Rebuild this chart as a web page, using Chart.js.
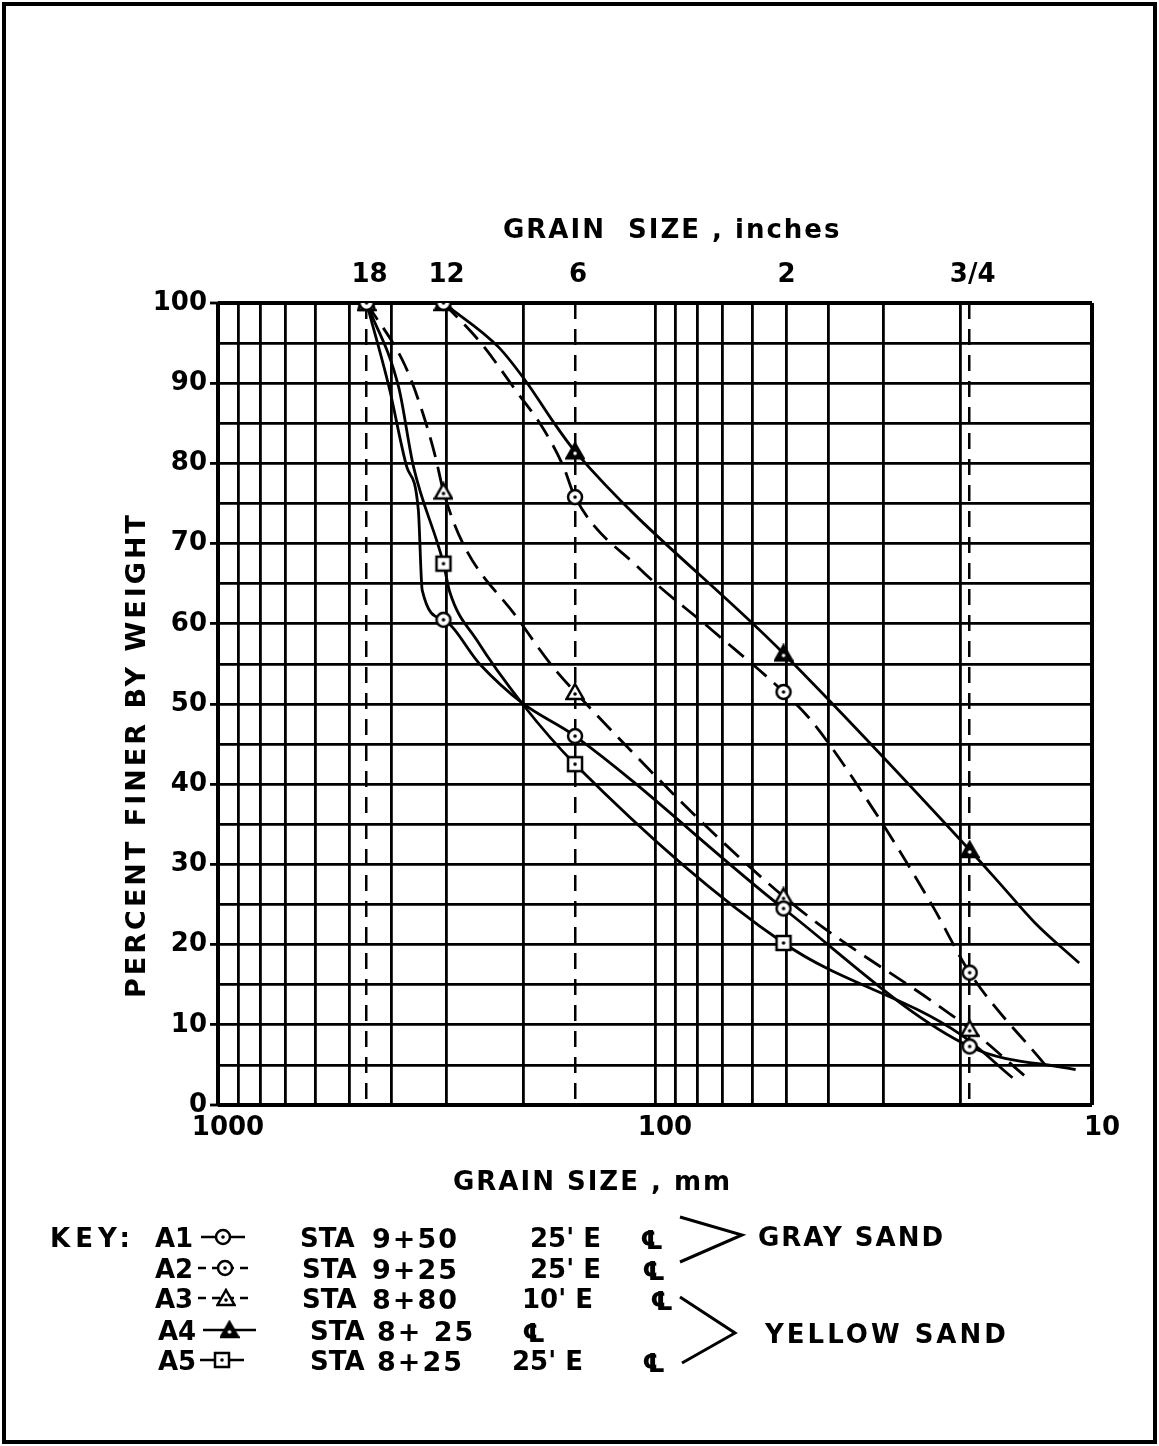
<!DOCTYPE html>
<html><head><meta charset="utf-8">
<script src="https://cdn.jsdelivr.net/npm/chart.js@4/dist/chart.umd.min.js"></script>
<style>
html,body{margin:0;padding:0;background:#fff;}
#wrap{position:relative;width:1159px;height:1446px;overflow:hidden;background:#fff;}
#c{position:absolute;left:0;top:0;}
.t{position:absolute;font-family:"DejaVu Sans",sans-serif;font-weight:bold;color:#000;white-space:pre;line-height:1;font-size:26px;}
#frame{position:absolute;left:2px;top:2px;width:1155px;height:1442px;box-sizing:border-box;border:4px solid #000;}
</style></head><body>
<div id="wrap">
<canvas id="c" width="1159" height="1446"></canvas>
<div id="frame"></div>
<div class="t" style="left:503px;top:216px;letter-spacing:2px">GRAIN  SIZE , inches</div>
<div class="t" style="left:453px;top:1168px;letter-spacing:2px">GRAIN SIZE , mm</div>
<div class="t" style="left:135px;top:755px;letter-spacing:3px;font-size:27px;transform:translate(-50%,-50%) rotate(-90deg)">PERCENT FINER BY WEIGHT</div>
<div class="t" style="left:50px;top:1225px;letter-spacing:5px">KEY:</div>
<div class="t" style="left:758px;top:1224px;letter-spacing:2px">GRAY SAND</div>
<div class="t" style="left:765px;top:1321px;letter-spacing:3px">YELLOW SAND</div>
<div id="keytext"></div>
</div>
<script>
// ---- data ----
const sieveInches = ['18', '12', '6', '2', '3/4'];
const sieveMM = [457.2, 304.8, 152.4, 50.8, 19.05];
const xGridMM = [10,20,30,40,50,60,70,80,90,100,200,300,400,500,600,700,800,900,1000];
const xLabelMM = [10, 100, 1000];
const yLabelPct = [0,10,20,30,40,50,60,70,80,90,100];

const a1Size = [457.2, 406, 370, 348, 341, 304.8, 251, 201, 152.4, 50.8, 19.05, 10.9];
const a1Pct  = [100, 89.5, 79.6, 74.2, 64.2, 60.5, 54.9, 50.1, 46, 24.5, 7.3, 4.4];

const a2Size = [304.8, 251, 207, 181, 162, 152.4, 109, 74, 50.8, 44, 31.6, 23.1, 19.05, 12.8];
const a2Pct  = [100, 95.1, 88.9, 84.5, 79.6, 75.8, 67, 59.2, 51.5, 48, 36.8, 24.7, 16.5, 5];

const a3Size = [457.2, 374, 341, 318, 304.8, 275, 207, 174, 152.4, 50.8, 19.05, 14.3];
const a3Pct  = [100, 92.3, 86.5, 80.8, 76.5, 70, 60.8, 55.1, 51.5, 26, 9.5, 3.7];

const a4Size = [304.8, 228, 196, 172, 152.4, 50.8, 19.05, 16.0, 13.5, 10.7];
const a4Pct  = [100, 94.5, 90, 85.4, 81.5, 56.3, 31.8, 27.2, 22.7, 17.7];

const a5Size = [457.2, 386, 357, 304.8, 295, 256, 201, 152.4, 50.8, 20, 15.2];
const a5Pct  = [100, 89.5, 79.6, 67.5, 64, 58, 50, 42.5, 20.2, 8.8, 3.4];

const keyIds = ['A1', 'A2', 'A3', 'A4', 'A5'];
const keySta = ['9+50', '9+25', '8+80', '8+ 25', '8+25'];
const keyOff = ["25' E", "25' E", "10' E", "", "25' E"];

// ---- marker images ----
function mk(kind) {
  const c = document.createElement('canvas');
  c.width = 20; c.height = 20;
  const g = c.getContext('2d');
  g.lineWidth = 2.5; g.strokeStyle = '#000'; g.fillStyle = '#fff';
  let dot = '#000';
  if (kind === 'circle') {
    g.beginPath(); g.arc(10, 10, 7, 0, Math.PI * 2); g.fill(); g.stroke();
  } else if (kind === 'tri' || kind === 'trifill') {
    g.beginPath(); g.moveTo(10, 2); g.lineTo(18.5, 17); g.lineTo(1.5, 17); g.closePath();
    if (kind === 'trifill') { g.fillStyle = '#000'; dot = '#fff'; }
    g.fill(); g.stroke();
  } else {
    g.beginPath(); g.rect(3, 3, 14, 14); g.fill(); g.stroke();
  }
  g.fillStyle = dot;
  g.beginPath(); g.arc(10, kind.startsWith('tri') ? 12 : 10, 1.8, 0, Math.PI * 2); g.fill();
  return c;
}
const markers = [mk('circle'), mk('circle'), mk('tri'), mk('trifill'), mk('rect')];
const dashes = [[], [20, 10], [20, 10], [], []];
const sizes = [a1Size, a2Size, a3Size, a4Size, a5Size];
const pcts = [a1Pct, a2Pct, a3Pct, a4Pct, a5Pct];

const isSieve = v => sieveMM.some(s => Math.abs(s - v) < 0.01);

const datasets = keyIds.map((id, i) => ({
  label: id,
  data: sizes[i].map((s, j) => ({ x: s, y: pcts[i][j] })),
  borderColor: '#000',
  borderWidth: 2.8,
  borderDash: dashes[i],
  fill: false,
  cubicInterpolationMode: 'monotone',
  pointStyle: markers[i],
  pointRadius: ctx => (ctx.raw && isSieve(ctx.raw.x)) ? 8 : 0,
  pointHoverRadius: 0,
  xAxisID: 'x',
  yAxisID: 'y'
}));

// ---- key text ----
const kt = document.getElementById('keytext');
const rowY = [1237, 1268, 1298, 1330, 1360];
const idX = [155, 155, 155, 158, 158];
const staX = [300, 302, 302, 310, 310];
const numX = [372, 372, 372, 377, 377];
const offX = [530, 530, 522, 0, 512];
const clX = [640, 642, 650, 522, 642];
function addText(txt, x, cy, extra) {
  const d = document.createElement('div');
  d.className = 't';
  d.textContent = txt;
  d.style.left = x + 'px';
  d.style.top = (cy - 12) + 'px';
  if (extra) Object.assign(d.style, extra);
  kt.appendChild(d);
}
keyIds.forEach((id, i) => {
  addText(id, idX[i], rowY[i]);
  addText('STA', staX[i], rowY[i]);
  addText(keySta[i], numX[i], rowY[i], { letterSpacing: '2px', fontSize: '27px' });
  if (keyOff[i]) addText(keyOff[i], offX[i], rowY[i]);
  addText('\u2104', clX[i], rowY[i] + 2);
});

// ---- key samples and brackets ----
const sampleX = [[201, 245], [198, 252], [198, 254], [203, 256], [200, 244]];
const keyPlugin = {
  id: 'keyPlugin',
  afterDraw(chart) {
    const ctx = chart.ctx;
    ctx.save();
    ctx.strokeStyle = '#000';
    ctx.lineWidth = 2.5;
    keyIds.forEach((id, i) => {
      const [x1, x2] = sampleX[i];
      const y = rowY[i];
      ctx.setLineDash(dashes[i].length ? [8, 6] : []);
      ctx.beginPath(); ctx.moveTo(x1, y); ctx.lineTo(x2, y); ctx.stroke();
      ctx.setLineDash([]);
      ctx.drawImage(markers[i], (x1 + x2) / 2 - 10, y - 10);
    });
    ctx.lineWidth = 3;
    ctx.beginPath();
    ctx.moveTo(680, 1217); ctx.lineTo(742, 1235); ctx.lineTo(680, 1262);
    ctx.stroke();
    ctx.beginPath();
    ctx.moveTo(680, 1297); ctx.lineTo(735, 1333); ctx.lineTo(682, 1363);
    ctx.stroke();
    ctx.restore();
  }
};

const tickFont = { family: 'DejaVu Sans', weight: 'bold', size: 26 };

new Chart(document.getElementById('c'), {
  type: 'line',
  data: { datasets },
  options: {
    responsive: false,
    maintainAspectRatio: false,
    devicePixelRatio: 1,
    animation: false,
    layout: { padding: { left: 148, right: 67, top: 253, bottom: 301 } },
    plugins: { legend: { display: false }, tooltip: { enabled: false }, title: { display: false } },
    scales: {
      x: {
        type: 'logarithmic',
        position: 'bottom',
        reverse: true,
        min: 10, max: 1000,
        afterBuildTicks: axis => { axis.ticks = xGridMM.map(v => ({ value: v })); },
        afterFit: s => { s.height = 40; s.paddingLeft = 0; s.paddingRight = 0; },
        ticks: {
          autoSkip: false, maxRotation: 0, padding: 8, labelOffset: 10,
          color: '#000', font: tickFont,
          callback: v => xLabelMM.includes(v) ? String(v) : ''
        },
        grid: {
          color: '#000', drawTicks: false,
          lineWidth: c => (c.tick && (c.tick.value === 10 || c.tick.value === 1000)) ? 4 : 2.8
        },
        border: { display: false }
      },
      x2: {
        type: 'logarithmic',
        position: 'top',
        reverse: true,
        min: 10, max: 1000,
        afterBuildTicks: axis => { axis.ticks = sieveMM.map(v => ({ value: v })); },
        afterFit: s => { s.height = 50; s.paddingLeft = 0; s.paddingRight = 0; },
        ticks: {
          autoSkip: false, maxRotation: 0, padding: 12, labelOffset: 3,
          color: '#000', font: tickFont,
          callback: v => { const k = sieveMM.findIndex(s => Math.abs(s - v) < 0.01); return k >= 0 ? sieveInches[k] : ''; }
        },
        grid: {
          drawTicks: false, lineWidth: 2.5,
          color: c => (c.tick && (c.tick.value === 304.8 || c.tick.value === 50.8)) ? 'rgba(0,0,0,0)' : '#000'
        },
        border: { display: false, dash: [16, 10] }
      },
      y: {
        type: 'linear',
        position: 'left',
        min: 0, max: 100,
        afterFit: s => { s.width = 70; s.paddingTop = 0; s.paddingBottom = 0; },
        ticks: {
          stepSize: 5, autoSkip: false, padding: 3,
          color: '#000', font: tickFont,
          callback: v => yLabelPct.includes(v) ? String(v) : ''
        },
        grid: {
          color: '#000', tickLength: 8, tickWidth: 2.8,
          tickColor: c => (c.tick && c.tick.value % 10 === 0) ? '#000' : 'rgba(0,0,0,0)',
          lineWidth: c => (c.tick && (c.tick.value === 0 || c.tick.value === 100)) ? 4 : 2.8
        },
        border: { display: false }
      }
    }
  },
  plugins: [keyPlugin]
});
</script>
</body></html>
